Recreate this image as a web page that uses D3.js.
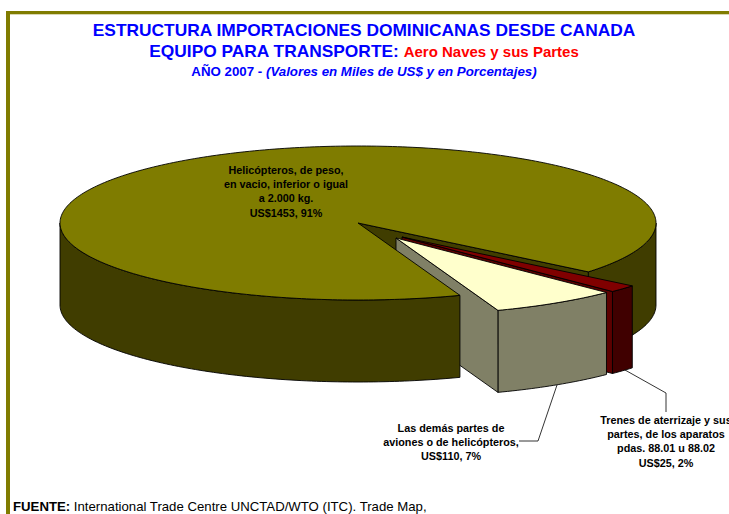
<!DOCTYPE html>
<html><head><meta charset="utf-8">
<script src="https://cdn.jsdelivr.net/npm/d3@7"></script>
<style>
html,body{margin:0;padding:0;background:#fff;overflow:hidden}
svg{display:block}
text{font-family:"Liberation Sans",Arial,sans-serif}
</style></head><body><div id="c"></div>
<script>
const categories=["Helicópteros, de peso, en vacio, inferior o igual a 2.000 kg.","Trenes de aterrizaje y sus partes","Las demás partes de aviones o de helicópteros"];
const values=[1453,25,110];
const fills=["#7F7C00","#800000","#FFFFCC"];
const wallFills=["#403D00","#400000","#808066"];
const cutFills=["#403D00","#5c0000","#808066"];
const explodeX=[0,44,38];
const explodeY=[0,14,15];
const labelLines=[
 ["Helicópteros, de peso,","en vacio, inferior o igual","a 2.000 kg.","US$1453, 91%"],
 ["Trenes de aterrizaje y sus","partes, de los aparatos","pdas. 88.01 u 88.02","US$25, 2%"],
 ["Las demás partes de","aviones o de helicópteros,","US$110, 7%"]];
const W=729,H=514,cx=358,cy=223,rx=298,ry=77,depth=82;
const svg=d3.select("#c").append("svg").attr("width",W).attr("height",H);
// frame
svg.append("rect").attr("x",6).attr("y",11).attr("width",4).attr("height",H-11).attr("fill","#807C00");
svg.append("rect").attr("x",6).attr("y",11).attr("width",W-6).attr("height",3.3).attr("fill","#807C00");

const rad=d=>d*Math.PI/180;
const pie=d3.pie().sort(null).startAngle(rad(70)).endAngle(rad(430));
const arcs=pie(values);
const line=d3.line();
const pt=(i,t,dz=0)=>[cx+explodeX[i]+rx*Math.cos(t),cy+explodeY[i]+ry*Math.sin(t)+dz];
const ctr=(i,dz=0)=>[cx+explodeX[i],cy+explodeY[i]+dz];
const samples=(a,b)=>{const n=Math.max(2,Math.ceil(Math.abs(b-a)/rad(1)));return d3.range(n+1).map(k=>a+(b-a)*k/n);};
const g=svg.append("g").attr("stroke","#000").attr("stroke-width",0.9).attr("stroke-linejoin","round");
const poly=(pts,fill)=>g.append("path").attr("d",line(pts)+"Z").attr("fill",fill);
const topFace=i=>{const a=arcs[i];poly([ctr(i),...samples(a.startAngle,a.endAngle).map(t=>pt(i,t))],fills[i]);};
const wall=(i,a,b)=>{const s=samples(a,b);poly([...s.map(t=>pt(i,t)),...s.slice().reverse().map(t=>pt(i,t,depth))],wallFills[i]);};
const cut=(i,t)=>poly([ctr(i),pt(i,t),pt(i,t,depth),ctr(i,depth)],cutFills[i]);
const o=arcs[0],r=arcs[1],cr=arcs[2];
// back to front
wall(0,rad(360),o.endAngle);
cut(0,o.endAngle);
cut(1,r.endAngle);
wall(1,r.startAngle,r.endAngle);
topFace(1);
wall(2,cr.startAngle,cr.endAngle);
// the near cut wall of the lower slice
poly([ctr(2),pt(2,cr.endAngle),pt(2,cr.endAngle,depth),ctr(2,depth)],wallFills[2]);
topFace(2);
wall(0,o.startAngle,rad(180));
topFace(0);

// leaders
const lead=svg.append("g").attr("fill","none").attr("stroke","#000").attr("stroke-width",0.8);
const leaderCream=[[557,385],[538,441],[519,441]];
const leaderRed=[[625,370],[666,393],[666,412]];
lead.append("path").attr("d",line(leaderCream));
lead.append("path").attr("d",line(leaderRed));

// title
const titleG=svg.append("g").attr("text-anchor","middle").attr("font-weight","bold");
titleG.append("text").attr("x",364).attr("y",36).attr("font-size",17.35).attr("fill","#0000FF").text("ESTRUCTURA IMPORTACIONES DOMINICANAS DESDE CANADA");
const t2=titleG.append("text").attr("x",364).attr("y",57).attr("font-size",17.35).attr("fill","#0000FF");
t2.append("tspan").text("EQUIPO PARA TRANSPORTE: ");
t2.append("tspan").attr("fill","#FF0000").attr("font-size",15).text("Aero Naves y sus Partes");
const t3=titleG.append("text").attr("x",364).attr("y",76).attr("font-size",13.3).attr("fill","#0000FF");
t3.append("tspan").text("AÑO 2007 - ");
t3.append("tspan").attr("font-style","italic").text("(Valores en Miles de US$ y en Porcentajes)");

// labels
const labelX=[286,666,451],labelY=[174,424,432];
labelLines.forEach((ls,i)=>{
 const tx=svg.append("text").attr("text-anchor","middle").attr("font-weight","bold").attr("font-size",10.8).attr("fill","#000");
 ls.forEach((s,k)=>tx.append("tspan").attr("x",labelX[i]).attr("y",labelY[i]+k*14.2).text(s));
});
// footer
const f=svg.append("text").attr("x",13).attr("y",511).attr("font-size",13.2).attr("fill","#000");
f.append("tspan").attr("font-weight","bold").text("FUENTE:");
f.append("tspan").text(" International Trade Centre UNCTAD/WTO (ITC). Trade Map,");
</script></body></html>
